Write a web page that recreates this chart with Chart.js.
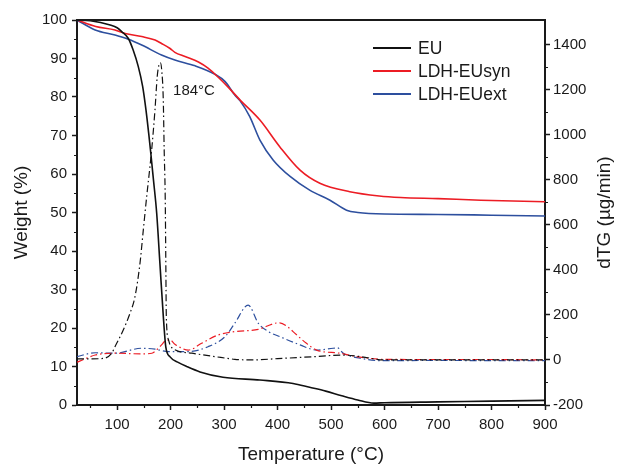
<!DOCTYPE html>
<html>
<head>
<meta charset="utf-8">
<script src="https://cdn.jsdelivr.net/npm/chart.js@4.4.1/dist/chart.umd.min.js"></script>
<style>
  html, body { margin: 0; padding: 0; background: #fff; }
  #wrap { width: 619px; height: 466px; }
</style>
</head>
<body>
<div id="wrap"><canvas id="tgaChart" width="619" height="466"></canvas></div>
<script>
// Tick labels
const tempTicks = [100, 200, 300, 400, 500, 600, 700, 800, 900];
const weightTicks = [0, 10, 20, 30, 40, 50, 60, 70, 80, 90, 100];
const dtgTicks = [-200, 0, 200, 400, 600, 800, 1000, 1200, 1400];

// EU - weight loss (%)
const euWeightT = [25, 50, 87, 100, 108.5, 121, 130, 139.6, 147.8, 154, 159, 163, 168, 174, 180, 186, 191, 199, 215, 230, 255, 298, 367, 429, 460, 490, 520, 550, 580, 600, 700, 800, 900];
const euWeight  = [100, 99.8, 98.7, 98, 97, 95.2, 92.2, 87.9, 82.7, 76.6, 70.6, 65.4, 58.4, 49.8, 36.8, 23.8, 15.1, 12.5, 11, 10, 8.6, 7.2, 6.5, 5.6, 4.6, 3.6, 2.4, 1.3, 0.5, 0.6, 0.8, 1.0, 1.2];

// LDH-EUsyn - weight loss (%)
const synWeightT = [25, 60, 96, 115, 146, 171, 183, 199, 208, 227, 252, 270, 290, 308, 330, 367, 404, 442, 479, 535, 590, 630, 700, 780, 900];
const synWeight  = [100, 98.3, 97.4, 96.5, 95.7, 94.8, 93.9, 92.6, 91.6, 90.5, 89.1, 87.5, 85, 82.5, 79.2, 74, 67.1, 61, 57.6, 55.4, 54.3, 53.9, 53.6, 53.2, 52.8];

// LDH-EUext - weight loss (%)
const extWeightT = [25, 59, 96, 121, 146, 183, 208, 246, 283, 302, 320, 330, 348, 367, 392, 424, 460, 498, 529, 550, 600, 700, 800, 900];
const extWeight  = [100, 97.4, 96.1, 95, 93.5, 90.9, 89.6, 88.1, 85.9, 84, 80.5, 79, 74.9, 68.8, 63.6, 59.3, 55.8, 53.2, 50.6, 50, 49.6, 49.5, 49.3, 49.1];

// dTG curves (ug/min)
const euDtgT = [25, 50, 75, 90, 96, 111.5, 124, 133.4, 142.8, 149, 155.3, 161, 164.6, 170.8, 175, 178.3, 181, 183.3, 186.3, 188, 190, 191, 192, 196, 199, 208, 240, 283, 320, 350, 400, 470, 500, 520, 555, 600, 700, 800, 900];
const euDtg  = [5, 5, 7, 30, 59, 133, 207, 281, 430, 578, 726, 850, 933, 1111, 1259, 1311, 1320, 1289, 1156, 933, 711, 450, 192, 90, 67, 45, 30, 15, 3, 0, 6, 15, 20, 22, 15, 0, 0, 0, 0];

const synDtgT = [25, 40, 59, 96, 146, 165, 176, 183, 190, 199, 208, 221, 233, 258, 289, 320, 364, 395, 404, 420, 429, 454, 473, 516, 548, 597, 700, 800, 900];
const synDtg  = [-10, 5, 22, 30, 27, 30, 50, 67, 85, 89, 70, 52, 44, 74, 111, 126, 136, 163, 165, 145, 126, 74, 44, 30, 15, 3, 2, 2, 0];

const extDtgT = [25, 59, 96, 146, 171, 196, 233, 270, 302, 320, 345, 364, 383, 404, 442, 473, 504, 512, 523, 554, 597, 700, 800, 900];
const extDtg  = [15, 32, 30, 52, 48, 37, 37, 59, 104, 163, 244, 163, 126, 104, 67, 44, 52, 54, 30, 8, -3, -2, -3, -3];

const FONT = '"Liberation Sans", Arial, sans-serif';
const INK = '#1a1a1a';
const RED = '#ec1c24';
const BLUE = '#2d4f9e';

const toPoints = (xs, ys) => xs.map((x, i) => ({ x: x, y: ys[i] }));

function weightSet(label, xs, ys, color) {
    return {
        label: label,
        data: toPoints(xs, ys),
        yAxisID: 'y',
        borderColor: color,
        borderWidth: 1.6,
        pointRadius: 0,
        fill: false,
        cubicInterpolationMode: 'monotone',
        showInLegend: true
    };
}

function dtgSet(label, xs, ys, color) {
    return {
        label: label,
        data: toPoints(xs, ys),
        yAxisID: 'y1',
        borderColor: color,
        borderWidth: 1.2,
        borderDash: [7, 3, 1.5, 3],
        pointRadius: 0,
        fill: false,
        cubicInterpolationMode: 'monotone'
    };
}

// minor ticks, top frame line, right title, legend and peak label
const decorPlugin = {
    id: 'decor',
    afterDraw(chart) {
        const ctx = chart.ctx;
        const { left, right, top, bottom } = chart.chartArea;
        const xs = chart.scales.x, ys = chart.scales.y, y1 = chart.scales.y1;
        ctx.save();
        ctx.strokeStyle = INK;
        ctx.lineWidth = 2;
        ctx.beginPath();
        ctx.moveTo(left - 1, top);
        ctx.lineTo(right + 1, top);
        ctx.stroke();

        ctx.lineWidth = 1.2;
        ctx.beginPath();
        for (let v = 50; v < 900; v += 100) {
            const p = Math.round(xs.getPixelForValue(v)) + 0.5;
            ctx.moveTo(p, bottom);
            ctx.lineTo(p, bottom + 3);
        }
        for (let v = 5; v < 100; v += 10) {
            const p = Math.round(ys.getPixelForValue(v)) + 0.5;
            ctx.moveTo(left, p);
            ctx.lineTo(left - 3, p);
        }
        for (let v = -100; v < 1500; v += 200) {
            const p = Math.round(y1.getPixelForValue(v)) + 0.5;
            ctx.moveTo(right, p);
            ctx.lineTo(right + 3, p);
        }
        ctx.stroke();

        // right axis title, reads bottom to top like the left one
        ctx.save();
        ctx.translate(605, (top + bottom) / 2);
        ctx.rotate(-Math.PI / 2);
        ctx.font = '19px ' + FONT;
        ctx.fillStyle = INK;
        ctx.textAlign = 'center';
        ctx.textBaseline = 'middle';
        ctx.fillText('dTG (µg/min)', 0, 0);
        ctx.restore();

        // legend
        ctx.font = '17.5px ' + FONT;
        ctx.textBaseline = 'middle';
        ctx.textAlign = 'left';
        let row = 0;
        chart.data.datasets.forEach(ds => {
            if (!ds.showInLegend) return;
            const yy = 48 + row * 23;
            ctx.strokeStyle = ds.borderColor;
            ctx.lineWidth = 2;
            ctx.beginPath();
            ctx.moveTo(373, yy);
            ctx.lineTo(411, yy);
            ctx.stroke();
            ctx.fillStyle = INK;
            ctx.fillText(ds.label, 418, yy + 1);
            row++;
        });

        // peak annotation
        ctx.font = '15px ' + FONT;
        ctx.fillStyle = INK;
        ctx.fillText('184°C', xs.getPixelForValue(184) + 11, y1.getPixelForValue(1195));
        ctx.restore();
    }
};

const axisCommon = {
    grid: { drawOnChartArea: false, drawTicks: true, tickLength: 5, tickWidth: 1.5, tickColor: INK },
    border: { color: INK, width: 2 },
    ticks: { font: { family: FONT, size: 15 }, color: INK, callback: v => String(v) }
};

new Chart(document.getElementById('tgaChart'), {
    type: 'line',
    data: {
        datasets: [
            weightSet('EU', euWeightT, euWeight, '#111111'),
            weightSet('LDH-EUsyn', synWeightT, synWeight, RED),
            weightSet('LDH-EUext', extWeightT, extWeight, BLUE),
            dtgSet('EU dTG', euDtgT, euDtg, '#111111'),
            dtgSet('LDH-EUsyn dTG', synDtgT, synDtg, RED),
            dtgSet('LDH-EUext dTG', extDtgT, extDtg, BLUE)
        ]
    },
    options: {
        responsive: false,
        animation: false,
        layout: { padding: { top: 20, left: 0, right: 0, bottom: 0 } },
        plugins: {
            legend: { display: false },
            tooltip: { enabled: false }
        },
        scales: {
            x: {
                ...axisCommon,
                type: 'linear',
                position: 'bottom',
                min: 25,
                max: 900,
                afterBuildTicks: s => { s.ticks = tempTicks.map(v => ({ value: v })); },
                afterFit: s => { s.height = 61; },
                ticks: { ...axisCommon.ticks, padding: 6, maxRotation: 0 },
                title: { display: true, text: 'Temperature (°C)', color: INK, font: { family: FONT, size: 19 }, padding: { top: 0, bottom: 0 } }
            },
            y: {
                ...axisCommon,
                position: 'left',
                min: 0,
                max: 100,
                afterBuildTicks: s => { s.ticks = weightTicks.map(v => ({ value: v })); },
                afterFit: s => { s.width = 77; },
                ticks: { ...axisCommon.ticks, padding: 5 },
                title: { display: true, text: 'Weight (%)', color: INK, font: { family: FONT, size: 19 }, padding: { top: 10, bottom: 0 } }
            },
            y1: {
                ...axisCommon,
                position: 'right',
                min: -200,
                max: 1510,
                afterBuildTicks: s => { s.ticks = dtgTicks.map(v => ({ value: v })); },
                afterFit: s => { s.width = 74; },
                ticks: { ...axisCommon.ticks, padding: 3 }
            }
        }
    },
    plugins: [decorPlugin]
});
</script>
</body>
</html>
